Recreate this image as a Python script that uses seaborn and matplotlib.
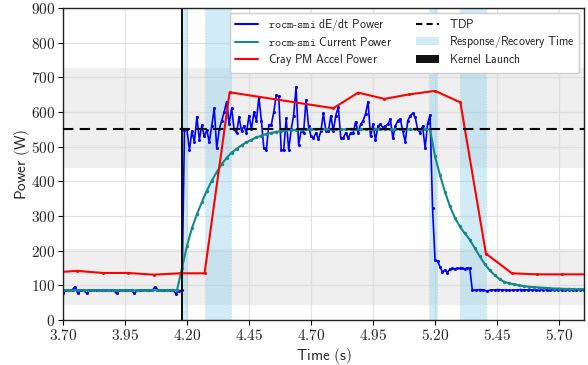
import numpy as np
import matplotlib
matplotlib.use("Agg")
import matplotlib.pyplot as plt
import seaborn as sns
from matplotlib.ticker import FuncFormatter, FixedLocator
from matplotlib.lines import Line2D
from matplotlib.patches import Patch

# ---------------- data ----------------
# rocm-smi dE/dt power: idle segment (3.70 -> 4.18 s)
blue_idle_power = [77, 86, 87, 86, 96, 77, 86, 86, 77, 86, 87, 86, 86, 86, 87, 86,
                   86, 86, 77, 86, 87, 86, 86, 86, 77, 86, 86, 86, 87, 86, 86, 96,
                   86, 86, 86, 87, 86, 86, 76, 85, 86]
# busy segment (4.19 -> 5.34 s)
blue_busy_power = [548, 550, 490, 545, 514, 586, 520, 562, 530, 548, 514, 560, 611, 495,
                   550, 575, 600, 630, 565, 611, 550, 540, 585, 545, 560, 540, 590, 550,
                   600, 575, 644, 575, 495, 490, 563,
                   563, 600, 649, 645, 490, 490, 582, 490, 550, 590, 673, 505, 545, 540,
                   635, 560, 530, 525, 540, 522, 545, 596, 545, 545, 590, 545, 590, 615,
                   525, 525, 540, 525, 540, 540, 572, 540, 565, 575, 595, 630, 530, 565,
                   519, 560, 565, 555, 560, 565, 580, 524, 560, 575, 580, 545, 514, 575,
                   590, 596, 585, 550, 540, 560, 495, 567, 591,
                   322, 173, 170, 154, 139, 144, 137, 147, 149, 148, 149, 150, 149, 148,
                   150, 149]
# tail segment (5.35 -> 5.80 s)
blue_tail_power = [88, 86, 88, 87, 84, 87, 87, 88, 87, 87, 86, 87, 87, 88, 87, 87,
                   87, 86, 87, 87, 88, 87, 87, 87, 86, 87, 87, 87, 86, 87, 87]

# rocm-smi current power (3.70 -> 5.80 s, every 0.02 s)
teal_power = [86] * 24 + [
    150, 214, 265, 305, 340, 373, 402, 427, 450, 468, 483, 494, 504, 513,
    520, 527, 532, 537, 540, 543, 545, 547, 548, 549, 549, 550, 550] + [550] * 24 + [
    472, 418, 370, 328, 295, 270, 250, 232, 208, 184, 162, 144, 130, 118,
    110, 106, 103, 100, 98, 96, 95, 94, 93, 92, 91, 91, 90, 90, 89, 89, 89]

# Cray PM accel power
red_time = [3.655, 3.757, 3.86, 3.962, 4.066, 4.171, 4.271, 4.372, 4.79, 4.89,
            4.996, 5.096, 5.20, 5.302, 5.405, 5.51, 5.61, 5.71, 5.81]
red_power = [137, 142, 136, 136, 131, 135, 135, 657, 611, 656,
             638, 651, 661, 628, 192, 135, 132, 132, 132]

tdp = 550
kernel_launch = (4.1775, 4.1825)
response_spans = [(4.174, 4.201), (4.271, 4.377), (5.177, 5.206), (5.302, 5.405)]
gray_bands = [(45, 205), (440, 727)]
x_ticks = [3.70, 3.95, 4.20, 4.45, 4.70, 4.95, 5.20, 5.45, 5.70]
y_ticks = [0, 100, 200, 300, 400, 500, 600, 700, 800, 900]

blue_time = np.concatenate([
    np.linspace(3.70, 4.18, len(blue_idle_power)),
    np.linspace(4.19, 5.34, len(blue_busy_power)),
    np.linspace(5.35, 5.80, len(blue_tail_power)),
])
blue_power = blue_idle_power + blue_busy_power + blue_tail_power
teal_time = np.linspace(3.70, 5.80, len(teal_power))

# ---------------- style ----------------
sns.set_style("whitegrid")
plt.rcParams["mathtext.fontset"] = "cm"
plt.rcParams["font.family"] = ["DejaVu Sans"]

fig = plt.figure(figsize=(5.88, 3.65), dpi=100)
ax = fig.add_axes([0.107, 0.123, 0.886, 0.855])

BLUE = "#0000ff"
TEAL = "#138a87"
RED = "#ff0000"

for lo, hi in gray_bands:
    ax.axhspan(lo, hi, facecolor="#d9d9d9", alpha=0.42, lw=0, zorder=0.6)
for lo, hi in response_spans:
    ax.axvspan(lo, hi, facecolor="#87ceeb", alpha=0.38, edgecolor="#7ec3e6",
               linestyle=":", linewidth=0.8, zorder=0.7)
ax.axvspan(*kernel_launch, facecolor="#111111", edgecolor="none", lw=0, zorder=3)

sns.lineplot(x=blue_time, y=blue_power, ax=ax, color=BLUE, lw=1.2, marker="o",
             markersize=2.2, markeredgewidth=0, sort=False, estimator=None, zorder=2)
sns.lineplot(x=teal_time, y=teal_power, ax=ax, color=TEAL, lw=1.5, marker="o",
             markersize=2.4, markeredgewidth=0, sort=False, estimator=None, zorder=2.1)
sns.lineplot(x=red_time, y=red_power, ax=ax, color=RED, lw=1.5, marker="o",
             markersize=2.2, markeredgewidth=0, sort=False, estimator=None, zorder=2.2)
ax.axhline(tdp, color="black", ls=(0, (5, 3)), lw=1.5, zorder=4)

ax.set_xlim(3.70, 5.80)
ax.set_ylim(0, 900)
ax.xaxis.set_major_locator(FixedLocator(x_ticks))
ax.yaxis.set_major_locator(FixedLocator(y_ticks))
ax.xaxis.set_major_formatter(FuncFormatter(lambda v, p: f"${v:.2f}$"))
ax.yaxis.set_major_formatter(FuncFormatter(lambda v, p: f"${int(round(v))}$"))
ax.tick_params(axis="both", labelsize=11, length=3.5, width=0.8, color="black",
               direction="out", left=True, bottom=True, pad=2)
ax.grid(True, color="#e2e2e2", lw=0.9)
ax.set_axisbelow(True)
for s in ax.spines.values():
    s.set_color("#222222")
    s.set_linewidth(1.0)

ax.set_xlabel(r"$\mathsf{Time\ (s)}$", fontsize=11, labelpad=2)
ax.set_ylabel(r"$\mathsf{Power\ (W)}$", fontsize=11, labelpad=-1)

handles = [
    Line2D([], [], color=BLUE, lw=1.5),
    Line2D([], [], color=TEAL, lw=1.5),
    Line2D([], [], color=RED, lw=1.5),
    Line2D([], [], color="black", lw=1.5, ls=(0, (3, 2))),
    Patch(facecolor="#87ceeb", alpha=0.38, lw=0),
    Patch(facecolor="#111111", lw=0),
]
labels = [
    r"$\mathtt{rocm\text{-}smi}\ \mathsf{dE/dt\ Power}$",
    r"$\mathtt{rocm\text{-}smi}\ \mathsf{Current\ Power}$",
    r"$\mathsf{Cray\ PM\ Accel\ Power}$",
    r"$\mathsf{TDP}$",
    r"$\mathsf{Response/Recovery\ Time}$",
    r"$\mathsf{Kernel\ Launch}$",
]
leg = ax.legend(handles, labels, ncol=2, loc="upper right", fontsize=8.5,
                frameon=True, framealpha=1.0, edgecolor="#cccccc", fancybox=True,
                borderaxespad=0.4, handlelength=2.0, columnspacing=2.0,
                labelspacing=0.25)
leg.set_zorder(10)

fig.savefig("out.png", dpi=100)
